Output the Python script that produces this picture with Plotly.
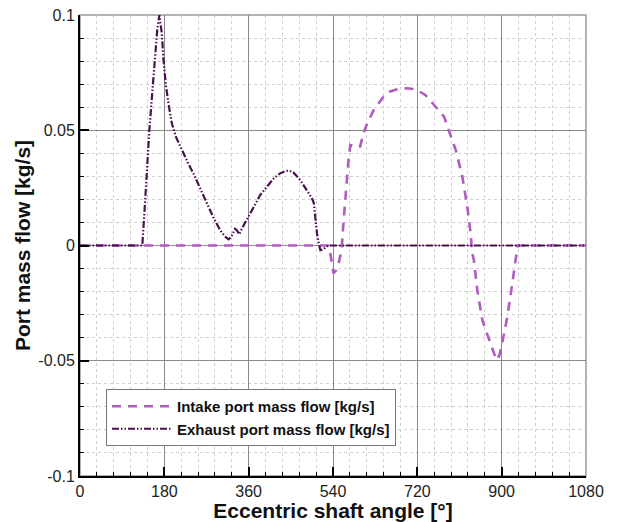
import plotly.graph_objects as go

# Exhaust port mass flow [kg/s]
exh_angle = [0, 60, 120, 133, 138, 142.6, 148, 153, 160, 165, 169.5, 174.6, 178, 183, 190, 196, 205, 217, 230, 242, 256, 271, 285, 299, 310, 317, 322, 327, 331, 335, 340, 346, 355, 370, 385, 399, 413, 427, 437, 445, 455, 470, 485, 495, 499, 502, 506, 510, 513, 518, 523, 530, 600, 700, 800, 900, 1000, 1080]
exh_flow = [0, 0, 0, 0, 0.016, 0.034, 0.05, 0.063, 0.08, 0.094, 0.1, 0.092, 0.081, 0.070, 0.060, 0.053, 0.047, 0.0414, 0.036, 0.0313, 0.025, 0.0183, 0.012, 0.0067, 0.0038, 0.0027, 0.0035, 0.0055, 0.0072, 0.0065, 0.0048, 0.0075, 0.011, 0.0168, 0.022, 0.0255, 0.0290, 0.0313, 0.0322, 0.0325, 0.0318, 0.0284, 0.024, 0.0205, 0.0185, 0.0125, 0.005, 0.0005, -0.002, -0.0018, -0.0012, 0, 0, 0, 0, 0, 0, 0]

# Intake port mass flow [kg/s]
int_angle = [0, 100, 200, 300, 400, 500, 530, 534, 538, 541, 546, 552, 556, 559, 562, 566, 570, 573, 577, 584, 591, 598, 605, 613, 627, 648, 662, 677, 698, 716, 737, 759, 777, 787, 802, 816, 826.6, 833.8, 837, 840.7, 848, 858.6, 872.9, 884, 890.7, 896, 901, 912, 922.7, 930, 934, 960, 1000, 1080]
int_flow = [0, 0, 0, 0, 0, 0, 0, -0.003, -0.009, -0.012, -0.011, -0.0077, -0.004, 0, 0.009, 0.0197, 0.030, 0.037, 0.0436, 0.043, 0.0425, 0.043, 0.0487, 0.053, 0.0588, 0.0646, 0.0668, 0.0678, 0.0682, 0.0678, 0.0653, 0.0602, 0.0559, 0.050, 0.0414, 0.030, 0.0168, 0.0053, -0.0034, -0.0063, -0.0193, -0.0323, -0.041, -0.047, -0.0497, -0.047, -0.0425, -0.031, -0.0164, -0.006, 0, 0, 0, 0]

x_ticks = [0, 180, 360, 540, 720, 900, 1080]
y_ticks = [-0.1, -0.05, 0, 0.05, 0.1]
y_tick_text = ["-0.1", "-0.05", "0", "0.05", "0.1"]

fig = go.Figure()
fig.add_trace(go.Scatter(
    x=int_angle, y=int_flow, mode="lines",
    name="Intake port mass flow [kg/s]",
    line=dict(color="#b05cbf", width=2.6, dash="9px,7px"),
))
fig.add_trace(go.Scatter(
    x=exh_angle, y=exh_flow, mode="lines",
    name="Exhaust port mass flow [kg/s]",
    line=dict(color="#4a0f4f", width=2.2, dash="7px,2px,1.5px,2px,1.5px,2px"),
))

grid_minor = dict(showgrid=True, gridcolor="#cfcfcf", griddash="dot", gridwidth=1,
                  ticks="inside", ticklen=4, tickwidth=1, tickcolor="#000")

fig.update_layout(
    width=618, height=522,
    margin=dict(l=80, r=32, t=15, b=46),
    paper_bgcolor="white", plot_bgcolor="white",
    font=dict(family="Liberation Sans, Arial, sans-serif", color="#111"),
    showlegend=True,
    legend=dict(
        x=(106 - 80) / 506, y=(476 - 389) / 461, xanchor="left", yanchor="top",
        bgcolor="white", bordercolor="#777", borderwidth=1,
        font=dict(size=15, family="Liberation Sans, Arial, sans-serif", color="#111", weight="bold"),
        tracegroupgap=0, itemwidth=60,
    ),
    xaxis=dict(
        range=[0, 1080], tickvals=x_ticks, ticktext=[str(v) for v in x_ticks],
        showgrid=True, gridcolor="#8a8a8a", gridwidth=1,
        ticks="inside", ticklen=9, tickwidth=2, tickcolor="#000",
        showline=True, linecolor="#000", linewidth=2,
        zeroline=False, automargin=False,
        tickfont=dict(size=16, color="#222"),
        minor=dict(dtick=36, tick0=0, **grid_minor),
        title=dict(text="<b>Eccentric shaft angle [°]</b>", font=dict(size=21, color="#111"), standoff=4),
    ),
    yaxis=dict(
        range=[-0.1, 0.1], tickvals=y_ticks, ticktext=y_tick_text,
        showgrid=True, gridcolor="#8a8a8a", gridwidth=1,
        ticks="inside", ticklen=9, tickwidth=2, tickcolor="#000",
        showline=True, linecolor="#000", linewidth=2,
        zeroline=False, automargin=False,
        tickfont=dict(size=16, color="#222"),
        minor=dict(dtick=0.01, tick0=0, **grid_minor),
        title=dict(text="<b>Port mass flow [kg/s]</b>", font=dict(size=21, color="#111"), standoff=2),
    ),
)

fig.add_shape(type="rect", xref="paper", yref="paper", x0=0, x1=1, y0=0, y1=1,
              line=dict(color="#9a9a9a", width=1.5), layer="below")

fig.write_html("out.html")
